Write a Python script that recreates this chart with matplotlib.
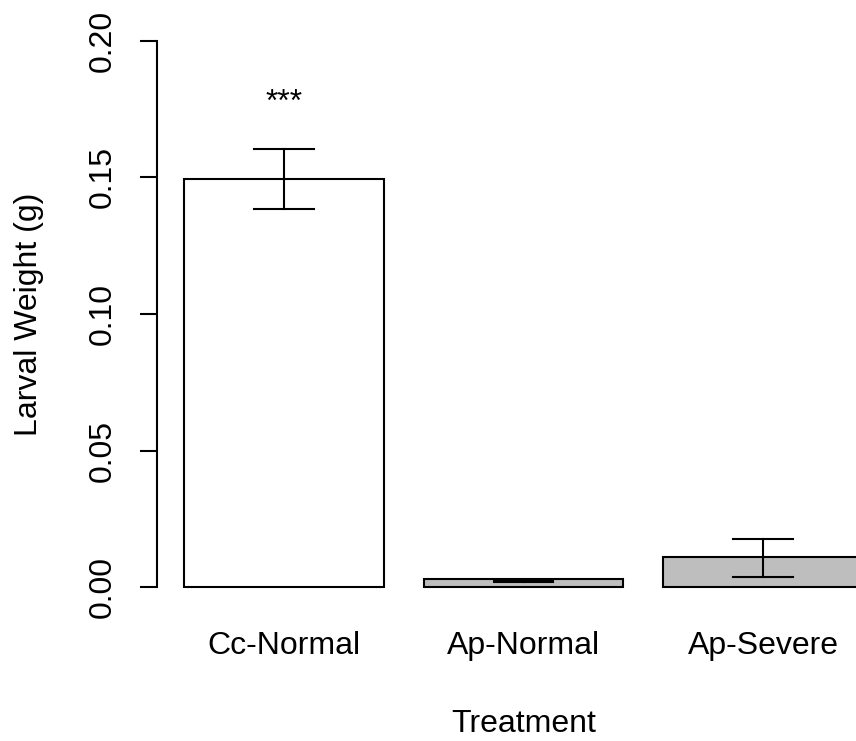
import matplotlib
matplotlib.use("Agg")
import matplotlib.pyplot as plt
import numpy as np

plt.rcParams['font.family'] = ['Liberation Sans', 'DejaVu Sans']

categories = ["Cc-Normal", "Ap-Normal", "Ap-Severe"]
means = [0.1493, 0.0029, 0.0109]
err_low = [0.1384, 0.0019, 0.0036]
err_high = [0.1604, 0.0025, 0.0175]
colors = ["white", "#BEBEBE", "#BEBEBE"]
yticks = [0.00, 0.05, 0.10, 0.15, 0.20]
ytick_labels = ["0.00", "0.05", "0.10", "0.15", "0.20"]
sig_label = "***"
sig_y = 0.1745

FS = 23
W, H = 856, 741
fig = plt.figure(figsize=(W / 100, H / 100), dpi=100)
ax = fig.add_axes([157 / W, (H - 609) / H, 733 / W, 590 / H])

x = np.array([0.7, 1.9, 3.1])
ax.bar(x, means, width=1.0, color=colors, edgecolor="black", linewidth=1.5, zorder=2)
for xi, lo, hi in zip(x, err_low, err_high):
    ax.plot([xi, xi], [lo, hi], color="black", lw=1.5, zorder=3)
    ax.plot([xi - 0.15, xi + 0.15], [lo, lo], color="black", lw=1.5, zorder=3)
    ax.plot([xi - 0.15, xi + 0.15], [hi, hi], color="black", lw=1.5, zorder=3)

ax.text(x[0], sig_y, sig_label, ha="center", va="baseline", fontsize=FS)

ax.set_xlim(0.064, 3.736)
ax.set_ylim(-0.008, 0.208)
for s in ["top", "right", "bottom"]:
    ax.spines[s].set_visible(False)
ax.spines["left"].set_bounds(0, 0.2)
ax.spines["left"].set_linewidth(1.5)

ax.set_yticks(yticks)
ax.set_yticklabels(ytick_labels, rotation=90, va="center")
ax.tick_params(axis="y", length=12.2, width=1.5, pad=16, labelsize=FS)
ax.set_xticks(x)
ax.set_xticklabels(categories)
ax.tick_params(axis="x", length=0, pad=15.5, labelsize=FS)

ax.set_xlabel("Treatment", fontsize=FS, labelpad=35)
fig.text(29 / W, 1 - 314 / H, "Larval Weight (g)", rotation=90, ha="center", va="center", fontsize=FS)

fig.savefig("out.png", dpi=100)
